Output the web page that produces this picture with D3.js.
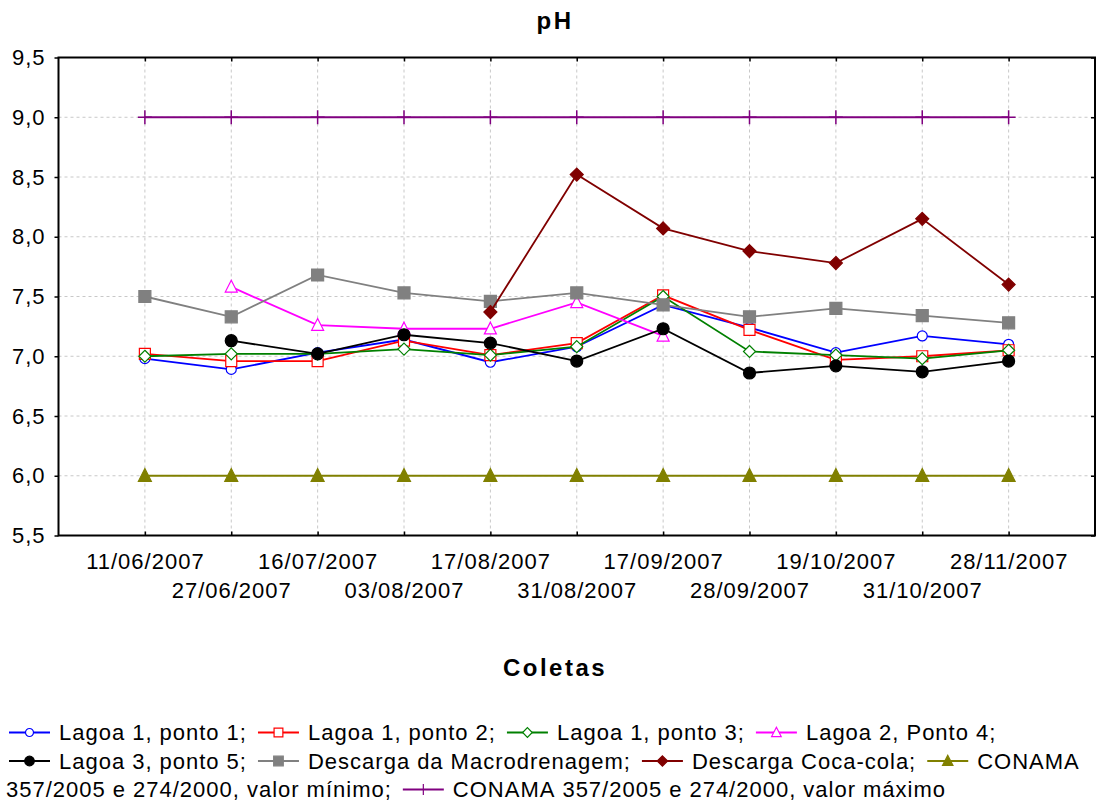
<!DOCTYPE html>
<html><head><meta charset="utf-8">
<script src="https://cdn.jsdelivr.net/npm/d3@7"></script>
<style>
body{margin:0;background:#fff}
svg text{font-family:"Liberation Sans",Arial,sans-serif;fill:#000}
</style>
</head><body>
<svg id="c" width="1098" height="805"></svg>
<script>
// ---------- data ----------
const categories = ["11/06/2007","27/06/2007","16/07/2007","03/08/2007","17/08/2007","31/08/2007","17/09/2007","28/09/2007","19/10/2007","31/10/2007","28/11/2007"];
const lagoa1Ponto1 = [6.98, 6.89, 7.03, 7.14, 6.95, 7.08, 7.43, 7.24, 7.03, 7.17, 7.10];
const lagoa1Ponto2 = [7.02, 6.96, 6.96, 7.13, 7.01, 7.11, 7.51, 7.22, 6.97, 7.00, 7.05];
const lagoa1Ponto3 = [7.00, 7.02, 7.02, 7.06, 7.01, 7.08, 7.50, 7.04, 7.01, 6.98, 7.05];
const lagoa2Ponto4 = [null, 7.58, 7.26, 7.23, 7.23, 7.45, 7.17, null, null, null, null];
const lagoa3Ponto5 = [null, 7.13, 7.02, 7.18, 7.11, 6.96, 7.23, 6.86, 6.92, 6.87, 6.96];
const descargaMacro = [7.50, 7.33, 7.68, 7.53, 7.46, 7.53, 7.43, 7.33, 7.40, 7.34, 7.28];
const descargaCoca = [null, null, null, null, 7.37, 8.52, 8.07, 7.88, 7.78, 8.15, 7.60];
const conamaMin = [6.0, 6.0, 6.0, 6.0, 6.0, 6.0, 6.0, 6.0, 6.0, 6.0, 6.0];
const conamaMax = [9.0, 9.0, 9.0, 9.0, 9.0, 9.0, 9.0, 9.0, 9.0, 9.0, 9.0];
const yTicks = [5.5, 6.0, 6.5, 7.0, 7.5, 8.0, 8.5, 9.0, 9.5];
const seriesNames = ["Lagoa 1, ponto 1;","Lagoa 1, ponto 2;","Lagoa 1, ponto 3;","Lagoa 2, Ponto 4;","Lagoa 3, ponto 5;","Descarga da Macrodrenagem;","Descarga Coca-cola;","CONAMA 357/2005 e 274/2000, valor mínimo;","CONAMA 357/2005 e 274/2000, valor máximo"];
const titleText = "pH";
const xTitleText = "Coletas";

// ---------- styles ----------
const seriesData = [lagoa1Ponto1, lagoa1Ponto2, lagoa1Ponto3, lagoa2Ponto4, lagoa3Ponto5, descargaMacro, descargaCoca, conamaMin, conamaMax];
const styles = [
  {color:"#0000FF", shape:"circle",  size:5,   fill:"#fff"},
  {color:"#FF0000", shape:"square",  size:5.5, fill:"#fff"},
  {color:"#008000", shape:"diamond", size:6,   fill:"#fff"},
  {color:"#FF00FF", shape:"triangle",size:6,   fill:"#fff"},
  {color:"#000000", shape:"circle",  size:6,   fill:"#000"},
  {color:"#808080", shape:"square",  size:6,   fill:"#808080"},
  {color:"#800000", shape:"diamond", size:6.5, fill:"#800000"},
  {color:"#808000", shape:"triangle",size:6.5, fill:"#808000"},
  {color:"#800080", shape:"plus",    size:7,   fill:"none"}
];

function markerPath(shape, s){
  switch(shape){
    case "circle": return `M${s},0A${s},${s} 0 1,1 ${-s},0A${s},${s} 0 1,1 ${s},0Z`;
    case "square": return `M${-s},${-s}H${s}V${s}H${-s}Z`;
    case "diamond": return `M0,${-s}L${s},0L0,${s}L${-s},0Z`;
    case "triangle": return `M0,${-s*1.1}L${s},${s*0.85}L${-s},${s*0.85}Z`;
    case "plus": return `M${-s},0H${s}M0,${-s}V${s}`;
  }
}

const plot = {left:58.5, right:1095, top:57.5, bottom:535.5};
const svg = d3.select("#c");
const fontTick = "22px", tickLS = "1px";

const x = d3.scalePoint().domain(categories).range([plot.left, plot.right]).padding(1);
const y = d3.scaleLinear().domain([5.5, 9.5]).range([plot.bottom, plot.top]);

// grid
const grid = svg.append("g").attr("stroke","#c8c8c8").attr("stroke-width",1).attr("stroke-dasharray","3,3");
yTicks.forEach(v=>{
  if(v===5.5||v===9.5) return;
  grid.append("line").attr("x1",plot.left).attr("x2",plot.right).attr("y1",y(v)).attr("y2",y(v));
});
categories.forEach(c=>{
  grid.append("line").attr("x1",x(c)).attr("x2",x(c)).attr("y1",plot.top).attr("y2",plot.bottom);
});

// frame
svg.append("rect").attr("x",plot.left).attr("y",plot.top).attr("width",plot.right-plot.left).attr("height",plot.bottom-plot.top)
  .attr("fill","none").attr("stroke","#000").attr("stroke-width",2);

// axes
const yAxis = d3.axisLeft(y).tickValues(yTicks).tickSize(4).tickPadding(9)
  .tickFormat(d=>d.toFixed(1).replace(".",","));
const gy = svg.append("g").attr("transform",`translate(${plot.left},0)`).call(yAxis);
gy.select(".domain").remove();
gy.selectAll("line").attr("stroke","#000").attr("stroke-width",1.5);
gy.selectAll("text").attr("font-size",fontTick).attr("letter-spacing",tickLS).attr("font-family","Liberation Sans, Arial, sans-serif");

const yAxisR = d3.axisLeft(y).tickValues(yTicks).tickSize(4).tickFormat("");
const gyr = svg.append("g").attr("transform",`translate(${plot.right},0)`).call(yAxisR);
gyr.select(".domain").remove();
gyr.selectAll("line").attr("stroke","#000").attr("stroke-width",1.5);

const xAxis = d3.axisBottom(x).tickSize(-4).tickFormat(d=>d);
const gx = svg.append("g").attr("transform",`translate(0,${plot.bottom})`).call(xAxis);
gx.select(".domain").remove();
gx.selectAll("line").attr("stroke","#000").attr("stroke-width",1.5);
gx.selectAll("text").attr("font-size",fontTick).attr("letter-spacing",tickLS).attr("font-family","Liberation Sans, Arial, sans-serif")
  .attr("dy",null).attr("y",(d,i)=> i%2===0 ? 33.5 : 62.5);

const xAxisT = d3.axisTop(x).tickSize(-4).tickFormat("");
const gxt = svg.append("g").attr("transform",`translate(0,${plot.top})`).call(xAxisT);
gxt.select(".domain").remove();
gxt.selectAll("line").attr("stroke","#000").attr("stroke-width",1.5);

// series
const line = d3.line().defined(d=>d.v!==null).x(d=>x(d.c)).y(d=>y(d.v));
seriesData.forEach((arr,si)=>{
  const st = styles[si];
  const pts = arr.map((v,i)=>({c:categories[i], v}));
  const g = svg.append("g");
  g.append("path").datum(pts).attr("d",line).attr("fill","none").attr("stroke",st.color).attr("stroke-width",1.8);
  g.selectAll("path.m").data(pts.filter(d=>d.v!==null)).enter().append("path").attr("class","m")
    .attr("transform",d=>`translate(${x(d.c)},${y(d.v)})`)
    .attr("d",markerPath(st.shape, st.size))
    .attr("fill",st.fill).attr("stroke",st.color).attr("stroke-width", st.shape==="plus"?1.5:1.2);
});

// titles
svg.append("text").attr("x",555).attr("y",29).attr("text-anchor","middle").attr("font-size","24px").attr("font-weight","bold").attr("letter-spacing","2.5px").text(titleText);
svg.append("text").attr("x",555).attr("y",676).attr("text-anchor","middle").attr("font-size","24px").attr("font-weight","bold").attr("letter-spacing","2.5px").text(xTitleText);

// legend (flow layout)
const leg = svg.append("g");
const legFont = "22px", legLS = "1px";
const lineH = 28.5, startX = 6, maxX = 1100;
let lx = 9, ly = 740;
function measure(t){
  const tmp = leg.append("text").attr("font-size",legFont).attr("letter-spacing",legLS).text(t);
  const w = tmp.node().getComputedTextLength(); tmp.remove(); return w;
}
const spaceW = 7, symW = 41, symGap = 9, itemGap = 11;
seriesNames.forEach((name,si)=>{
  const st = styles[si];
  const words = name.split(" ");
  const firstW = measure(words[0]);
  if(lx + symW + symGap + firstW > maxX){ lx = 9; ly += lineH; }
  const cy = ly - 7.5;
  leg.append("line").attr("x1",lx).attr("x2",lx+symW).attr("y1",cy).attr("y2",cy).attr("stroke",st.color).attr("stroke-width",1.8);
  leg.append("path").attr("transform",`translate(${lx+symW/2},${cy})`).attr("d",markerPath(st.shape, st.size*0.8))
    .attr("fill",st.fill).attr("stroke",st.color).attr("stroke-width",1.2);
  lx += symW + symGap;
  words.forEach((wd,wi)=>{
    const w = measure(wd);
    if(lx + w > maxX){ lx = startX; ly += lineH; }
    leg.append("text").attr("x",lx).attr("y",ly).attr("font-size",legFont).attr("letter-spacing",legLS).text(wd);
    lx += w + (wi < words.length-1 ? spaceW : itemGap);
  });
});
</script>
</body></html>
